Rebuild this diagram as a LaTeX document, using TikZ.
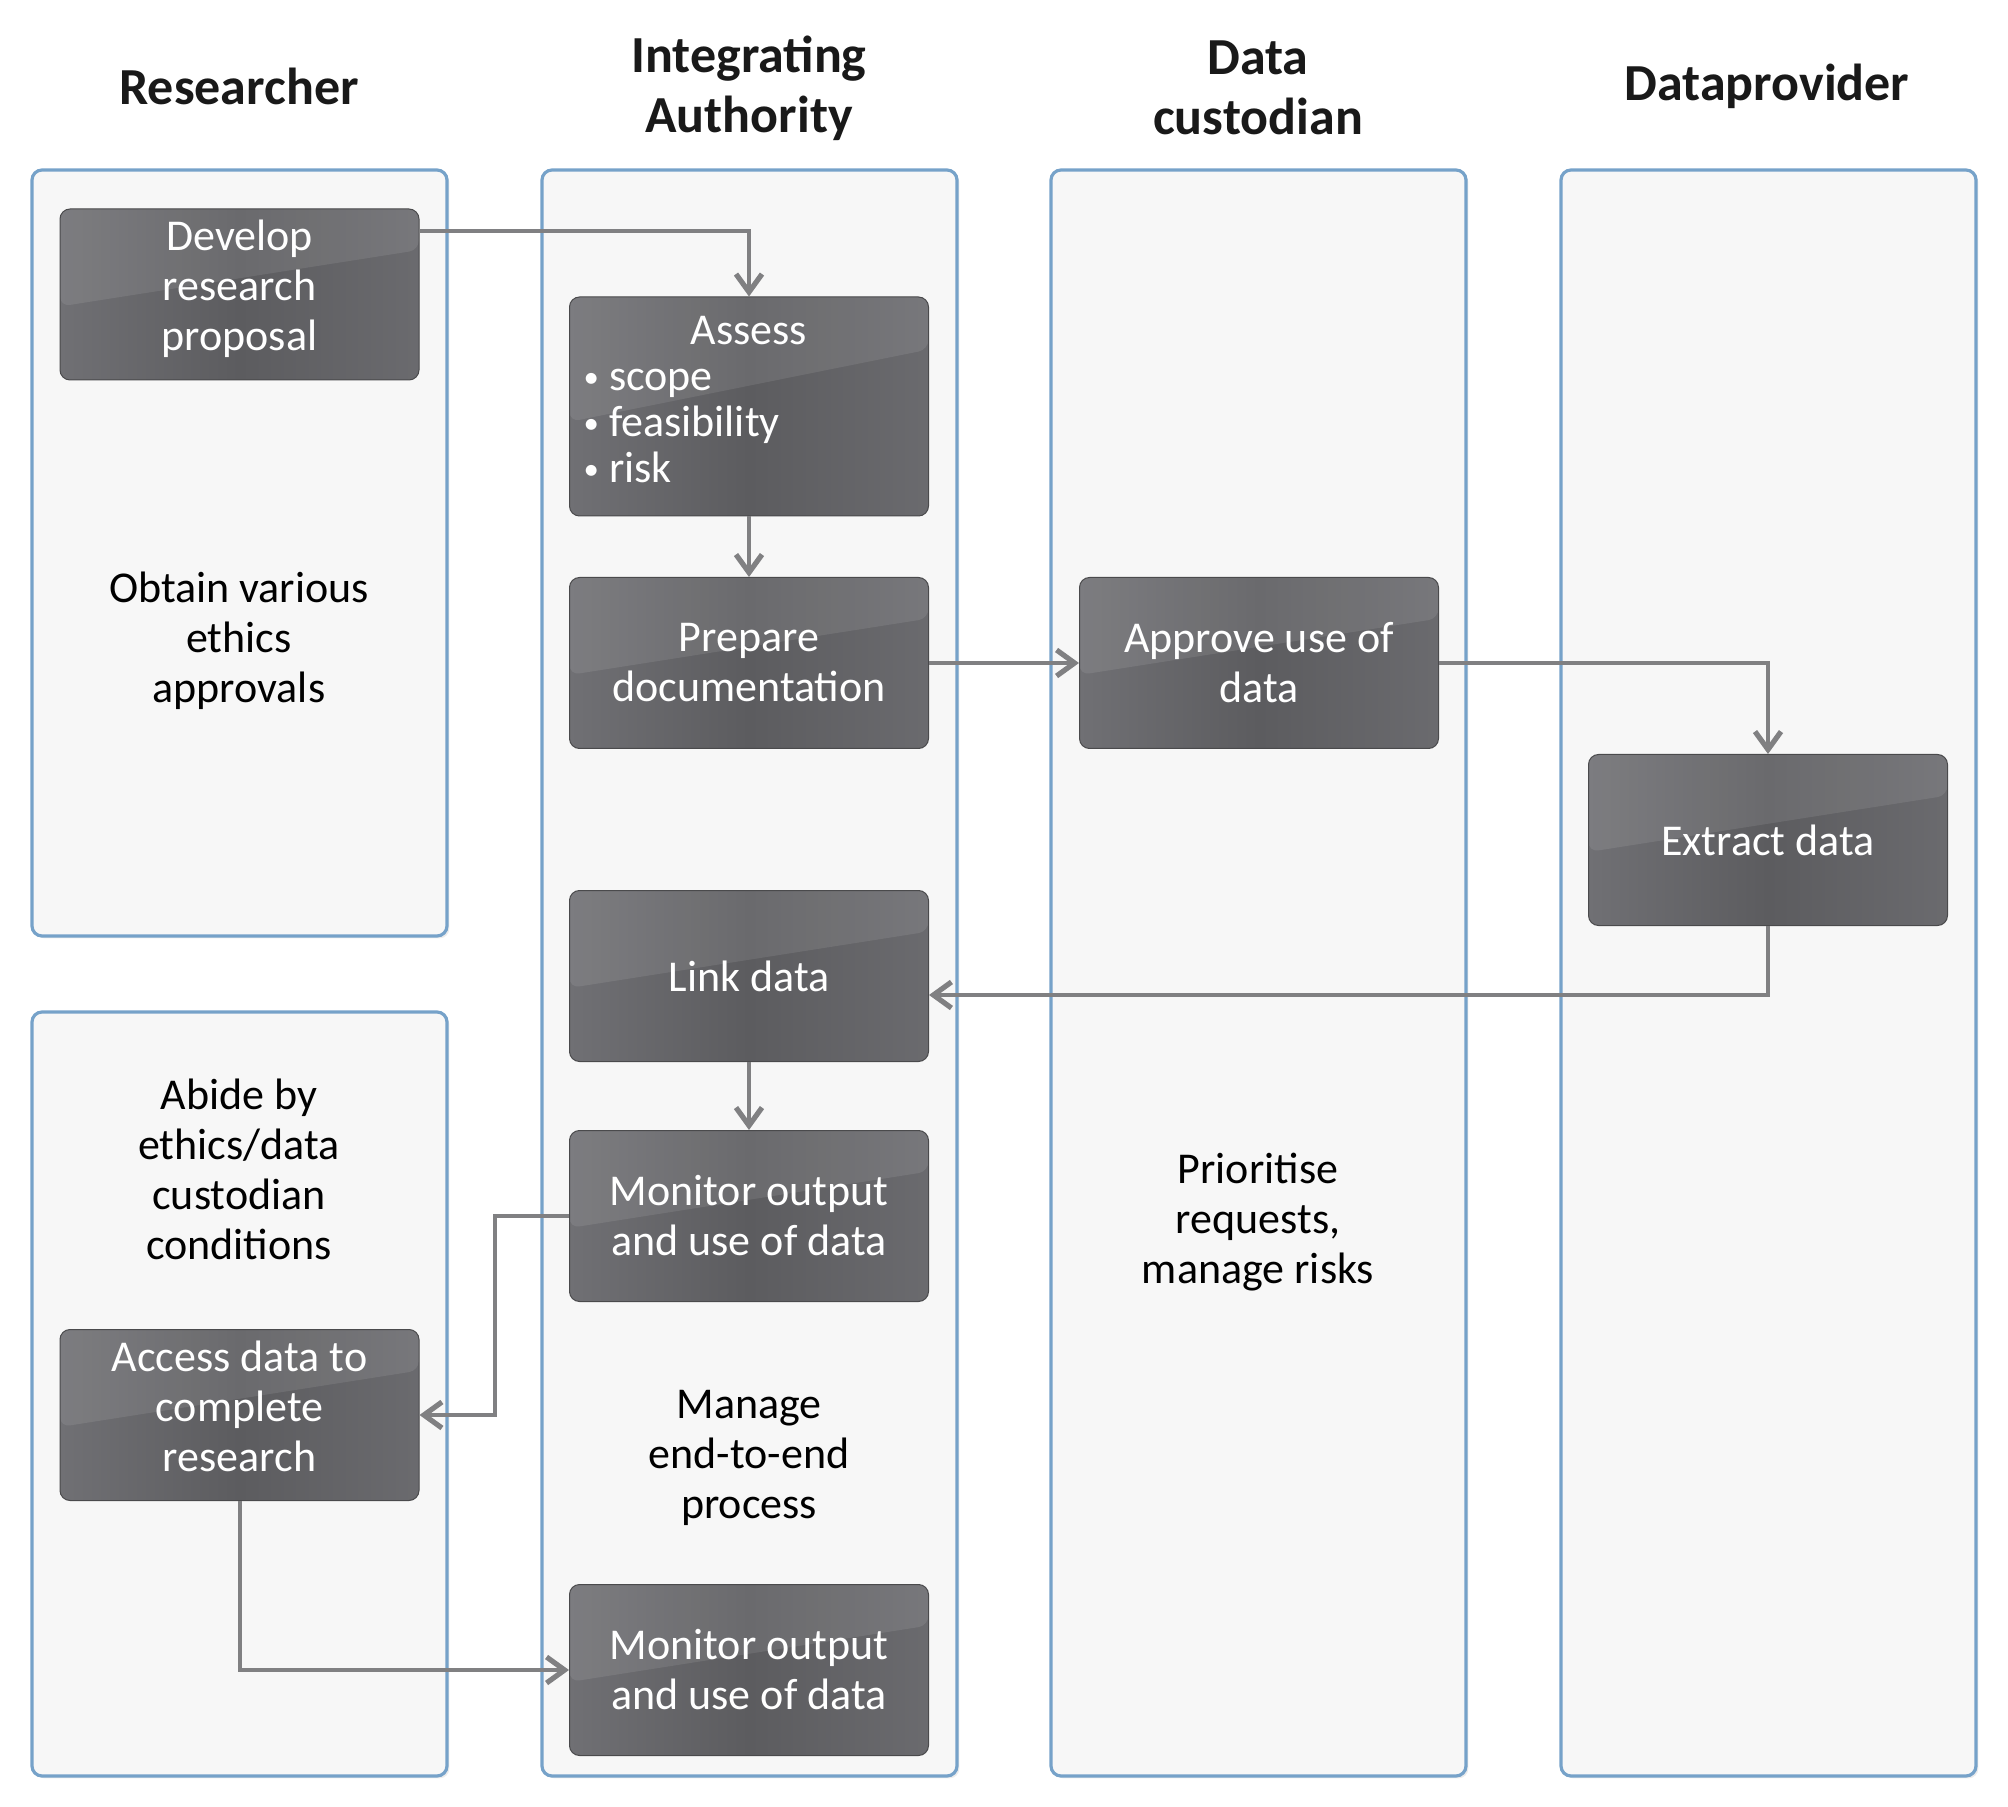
\documentclass[tikz,border=0pt]{standalone}
\usepackage{fontspec}
\setmainfont{Carlito}
\usepackage{tikz}
\usetikzlibrary{arrows.meta,calc,shadows}

\definecolor{lanefill}{RGB}{247,247,247}
\definecolor{laneedge}{RGB}{118,162,201}
\definecolor{taskdark}{RGB}{92,92,95}
\definecolor{tasklight}{RGB}{112,112,116}
\definecolor{flowgray}{RGB}{128,128,130}

\newcommand{\taskfont}{\fontsize{22}{25}\selectfont}
\newcommand{\headfont}{\fontsize{26}{30}\selectfont\bfseries}
\newcommand{\smallbullet}{\makebox[12.8pt][l]{\raisebox{1.5pt}{\scalebox{0.7}{\textbullet}}}}

\tikzset{
  lane/.style={draw=laneedge, line width=1.6pt, fill=lanefill, rounded corners=5pt,
    drop shadow={shadow xshift=1.2pt, shadow yshift=-1.2pt, opacity=0.15}},
  task/.style={rounded corners=5pt, draw=taskdark!80!black, line width=0.5pt,
    left color=tasklight, right color=tasklight!95!black, middle color=taskdark,
    text=white, minimum width=179.5pt, minimum height=85.5pt, align=center,
    inner sep=2pt, font=\taskfont,
    path picture={\fill[white, opacity=0.09] (path picture bounding box.north west)
      -- (path picture bounding box.north east)
      -- ($(path picture bounding box.north east)!0.24!(path picture bounding box.south east)$)
      -- ($(path picture bounding box.north west)!0.57!(path picture bounding box.south west)$)
      -- cycle;}},
  note/.style={align=center, font=\taskfont, text=black},
  head/.style={align=center, font=\headfont, text=black!90},
  flow/.style={draw=flowgray, line width=2pt,
    -{Straight Barb[length=9pt, width=13pt, line width=2.6pt]}},
}

\begin{document}
\begin{tikzpicture}[x=0.5pt,y=0.5pt,yscale=-1,xscale=1]
\useasboundingbox (0,0) rectangle (2008,1807);

% Lanes
\draw [lane] (32,170) rectangle (447,936);
\draw [lane] (32,1012) rectangle (447,1776);
\draw [lane] (542,170) rectangle (957,1776);
\draw [lane] (1051,170) rectangle (1466,1776);
\draw [lane] (1561,170) rectangle (1976,1776);

% Headers
\node [head] (hres) at (239,86) {Researcher};
\node [head] (hint) at (749,88) {Integrating\\Authority};
\node [head] (hcus) at (1258,88) {Data\\custodian};
\node [head] (hpro) at (1767,86) {Dataprovider};

% Lane texts
\node [note] (ethics) at (239,641) {Obtain various\\ethics\\approvals};
\node [note] (abide) at (239,1169) {Abide by\\ethics/data\\custodian\\conditions};
\node [note] (manage) at (749,1458) {Manage\\end-to-end\\process};
\node [note] (prioritise) at (1258,1222) {Prioritise\\requests,\\manage risks};

% Tasks
\node [task, text depth=9pt] (develop) at (239.5,294.5) {Develop\\research\\proposal};
\node [task, minimum height=109.5pt, text depth=43.7pt] (assess) at (749,406.5) {\parbox{165.5pt}{\fontsize{22}{23}\selectfont\centering Assess\par\raggedright
  \smallbullet scope\par \smallbullet feasibility\par \smallbullet risk\par}};
\node [task] (prepare) at (749,663) {Prepare\\documentation};
\node [task] (approve) at (1259,663) {Approve use of\\data};
\node [task] (extract) at (1768,840) {Extract data};
\node [task] (link) at (749,976) {Link data};
\node [task] (monitorA) at (749,1216) {Monitor output\\and use of data};
\node [task, text depth=9pt] (access) at (239.5,1415) {Access data to\\complete\\research};
\node [task] (monitorB) at (749,1670) {Monitor output\\and use of data};

% Flows
\draw [flow] ([yshift=11.5pt]develop.north east) -| (assess.north);
\draw [flow] (assess.south) -- (prepare.north);
\draw [flow] (prepare.east) -- (approve.west);
\draw [flow] (approve.east) -| (extract.north);
\draw [flow] (extract.south) |- ([yshift=9.5pt]link.east);
\draw [flow] (link.south) -- (monitorA.north);
\draw [flow] (monitorA.west) -- ++(-74,0) |- (access.east);
\draw [flow] (access.south) |- (monitorB.west);

\end{tikzpicture}
\end{document}
